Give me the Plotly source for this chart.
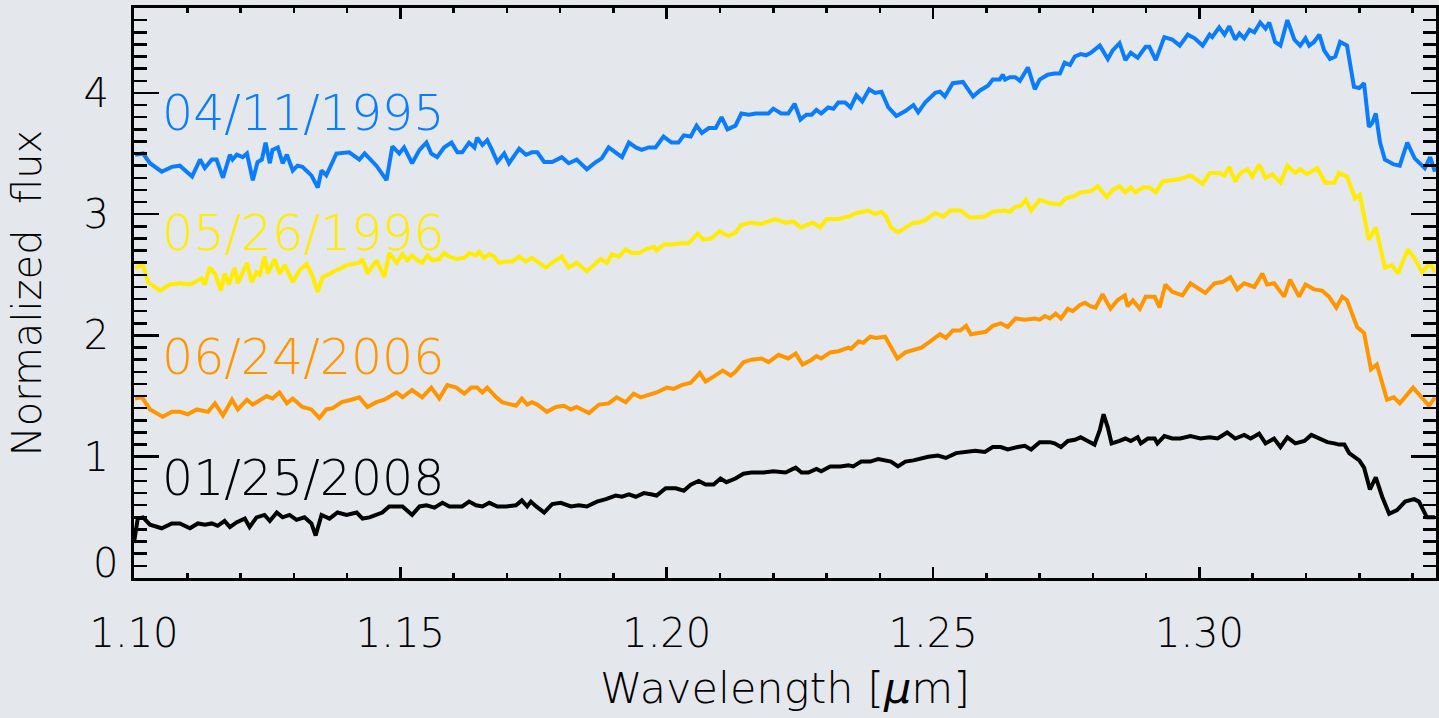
import plotly.graph_objects as go

# ---------------- data ----------------
wl_1995 = [1.1002,1.1017,1.1030,1.1052,1.1071,1.1086,1.1109,1.1124,1.1133,1.1146,1.1155,1.1167,1.1180,1.1185,1.1193,1.1204,1.1212,1.1223,1.1232,1.1240,1.1247,1.1255,1.1260,1.1270,1.1279,1.1287,1.1298,1.1307,1.1316,1.1333,1.1345,1.1352,1.1361,1.1380,1.1404,1.1423,1.1433,1.1455,1.1474,1.1485,1.1498,1.1507,1.1522,1.1536,1.1549,1.1558,1.1569,1.1582,1.1596,1.1607,1.1616,1.1629,1.1639,1.1644,1.1654,1.1663,1.1672,1.1682,1.1695,1.1704,1.1723,1.1736,1.1747,1.1757,1.1770,1.1785,1.1803,1.1816,1.1831,1.1850,1.1867,1.1878,1.1891,1.1904,1.1916,1.1929,1.1942,1.1953,1.1966,1.1979,1.1994,1.2009,1.2022,1.2032,1.2045,1.2056,1.2066,1.2079,1.2092,1.2103,1.2114,1.2129,1.2140,1.2154,1.2167,1.2178,1.2191,1.2200,1.2215,1.2228,1.2240,1.2251,1.2262,1.2272,1.2281,1.2290,1.2303,1.2313,1.2322,1.2335,1.2345,1.2356,1.2367,1.2380,1.2391,1.2403,1.2416,1.2431,1.2448,1.2463,1.2472,1.2485,1.2504,1.2513,1.2522,1.2537,1.2556,1.2575,1.2588,1.2603,1.2612,1.2625,1.2631,1.2635,1.2644,1.2654,1.2663,1.2678,1.2691,1.2700,1.2715,1.2728,1.2738,1.2747,1.2757,1.2766,1.2777,1.2787,1.2796,1.2813,1.2828,1.2837,1.2850,1.2861,1.2871,1.2884,1.2899,1.2906,1.2918,1.2934,1.2949,1.2963,1.2978,1.2991,1.3006,1.3019,1.3024,1.3037,1.3047,1.3056,1.3067,1.3075,1.3084,1.3094,1.3103,1.3114,1.3124,1.3131,1.3142,1.3152,1.3165,1.3178,1.3189,1.3199,1.3206,1.3215,1.3225,1.3234,1.3245,1.3255,1.3264,1.3277,1.3290,1.3300,1.3309,1.3318,1.3324,1.3331,1.3339,1.3348,1.3365,1.3376,1.3390,1.3404,1.3423,1.3433,1.3442]
fx_1995 = [3.49,3.50,3.42,3.35,3.39,3.40,3.31,3.45,3.38,3.45,3.45,3.30,3.49,3.45,3.49,3.47,3.50,3.28,3.43,3.45,3.59,3.42,3.53,3.55,3.42,3.49,3.36,3.40,3.39,3.32,3.22,3.36,3.32,3.50,3.51,3.45,3.50,3.40,3.28,3.56,3.50,3.55,3.42,3.53,3.59,3.50,3.47,3.55,3.59,3.51,3.51,3.59,3.55,3.63,3.57,3.61,3.53,3.43,3.50,3.42,3.54,3.49,3.51,3.51,3.43,3.43,3.47,3.42,3.45,3.37,3.43,3.46,3.55,3.51,3.47,3.59,3.55,3.53,3.55,3.55,3.64,3.59,3.59,3.65,3.64,3.73,3.67,3.71,3.71,3.80,3.70,3.73,3.83,3.82,3.83,3.83,3.83,3.87,3.83,3.83,3.91,3.78,3.82,3.82,3.86,3.83,3.88,3.87,3.92,3.92,3.88,3.98,3.93,4.03,4.00,4.01,3.88,3.81,3.85,3.90,3.84,3.92,4.00,4.01,3.97,4.08,4.09,3.97,4.02,4.06,4.11,4.11,4.15,4.11,4.13,4.13,4.10,4.21,4.03,4.11,4.15,4.16,4.16,4.25,4.23,4.30,4.32,4.31,4.33,4.39,4.28,4.35,4.41,4.27,4.33,4.29,4.38,4.38,4.27,4.46,4.44,4.39,4.48,4.45,4.39,4.48,4.46,4.54,4.48,4.55,4.44,4.49,4.45,4.52,4.50,4.58,4.53,4.58,4.42,4.39,4.60,4.44,4.39,4.45,4.39,4.42,4.48,4.35,4.28,4.30,4.42,4.39,4.05,4.04,4.08,3.72,3.75,3.83,3.59,3.45,3.41,3.40,3.59,3.46,3.38,3.47,3.35]

wl_1996 = [1.1002,1.1017,1.1026,1.1049,1.1067,1.1086,1.1105,1.1127,1.1133,1.1142,1.1152,1.1163,1.1170,1.1178,1.1189,1.1195,1.1212,1.1221,1.1230,1.1236,1.1245,1.1251,1.1264,1.1273,1.1283,1.1298,1.1311,1.1324,1.1333,1.1345,1.1354,1.1367,1.1380,1.1399,1.1423,1.1429,1.1438,1.1455,1.1470,1.1479,1.1493,1.1504,1.1513,1.1522,1.1532,1.1541,1.1551,1.1560,1.1573,1.1582,1.1592,1.1605,1.1620,1.1629,1.1642,1.1648,1.1657,1.1667,1.1676,1.1685,1.1699,1.1710,1.1723,1.1736,1.1747,1.1757,1.1773,1.1785,1.1803,1.1816,1.1831,1.1850,1.1867,1.1876,1.1888,1.1897,1.1910,1.1923,1.1934,1.1948,1.1961,1.1976,1.1981,1.1994,1.2009,1.2026,1.2041,1.2058,1.2069,1.2084,1.2099,1.2116,1.2129,1.2140,1.2157,1.2178,1.2204,1.2223,1.2238,1.2251,1.2262,1.2275,1.2288,1.2300,1.2322,1.2341,1.2356,1.2378,1.2391,1.2403,1.2412,1.2421,1.2434,1.2448,1.2463,1.2472,1.2485,1.2504,1.2519,1.2532,1.2552,1.2569,1.2597,1.2612,1.2635,1.2644,1.2654,1.2665,1.2674,1.2684,1.2700,1.2719,1.2738,1.2749,1.2766,1.2777,1.2796,1.2809,1.2826,1.2837,1.2850,1.2861,1.2871,1.2880,1.2893,1.2906,1.2918,1.2931,1.2949,1.2964,1.2983,1.3006,1.3019,1.3037,1.3047,1.3056,1.3067,1.3077,1.3090,1.3099,1.3112,1.3124,1.3137,1.3152,1.3165,1.3180,1.3189,1.3202,1.3221,1.3236,1.3253,1.3262,1.3277,1.3292,1.3301,1.3318,1.3331,1.3348,1.3361,1.3373,1.3391,1.3403,1.3418,1.3433,1.3442]
fx_1996 = [2.56,2.58,2.44,2.37,2.42,2.43,2.42,2.47,2.42,2.56,2.51,2.37,2.51,2.42,2.56,2.43,2.60,2.44,2.52,2.50,2.65,2.51,2.63,2.51,2.58,2.44,2.54,2.59,2.51,2.36,2.48,2.51,2.54,2.58,2.60,2.63,2.51,2.62,2.48,2.68,2.60,2.67,2.62,2.66,2.62,2.60,2.66,2.62,2.63,2.68,2.65,2.63,2.64,2.68,2.66,2.69,2.64,2.67,2.65,2.60,2.61,2.61,2.65,2.61,2.64,2.61,2.56,2.60,2.65,2.56,2.60,2.53,2.60,2.63,2.60,2.67,2.65,2.71,2.68,2.68,2.71,2.73,2.70,2.75,2.75,2.76,2.76,2.84,2.79,2.80,2.86,2.82,2.85,2.91,2.93,2.92,2.96,2.93,2.94,2.89,2.91,2.93,2.89,2.96,2.96,2.98,3.01,3.03,3.00,3.02,2.98,2.89,2.85,2.89,2.93,2.93,2.95,3.01,2.98,3.03,3.03,2.97,2.98,3.02,3.03,3.02,3.06,3.07,3.12,3.03,3.12,3.09,3.08,3.13,3.15,3.18,3.19,3.23,3.14,3.20,3.23,3.18,3.22,3.18,3.22,3.22,3.18,3.27,3.28,3.29,3.32,3.25,3.34,3.34,3.32,3.39,3.27,3.34,3.37,3.31,3.41,3.30,3.33,3.26,3.40,3.34,3.37,3.33,3.38,3.26,3.26,3.34,3.31,3.13,3.16,2.79,2.89,2.56,2.58,2.51,2.71,2.64,2.52,2.60,2.52]

wl_2006 = [1.1002,1.1015,1.1030,1.1054,1.1071,1.1086,1.1101,1.1118,1.1139,1.1152,1.1167,1.1184,1.1195,1.1212,1.1223,1.1249,1.1260,1.1273,1.1287,1.1298,1.1316,1.1333,1.1348,1.1361,1.1373,1.1390,1.1408,1.1423,1.1438,1.1455,1.1470,1.1493,1.1504,1.1522,1.1541,1.1558,1.1573,1.1588,1.1605,1.1620,1.1633,1.1644,1.1654,1.1663,1.1680,1.1691,1.1717,1.1728,1.1738,1.1747,1.1757,1.1775,1.1792,1.1807,1.1820,1.1831,1.1854,1.1873,1.1891,1.1906,1.1923,1.1938,1.1951,1.1966,1.1981,1.2000,1.2013,1.2028,1.2045,1.2062,1.2073,1.2088,1.2105,1.2120,1.2129,1.2144,1.2159,1.2178,1.2191,1.2210,1.2228,1.2242,1.2255,1.2272,1.2281,1.2290,1.2307,1.2322,1.2341,1.2346,1.2360,1.2369,1.2382,1.2393,1.2410,1.2419,1.2433,1.2448,1.2463,1.2478,1.2494,1.2513,1.2524,1.2537,1.2551,1.2562,1.2571,1.2588,1.2599,1.2612,1.2627,1.2640,1.2655,1.2672,1.2691,1.2700,1.2710,1.2719,1.2730,1.2740,1.2753,1.2762,1.2775,1.2785,1.2796,1.2805,1.2818,1.2833,1.2846,1.2860,1.2865,1.2875,1.2888,1.2899,1.2916,1.2925,1.2936,1.2949,1.2968,1.2983,1.2996,1.3011,1.3028,1.3043,1.3058,1.3071,1.3084,1.3103,1.3118,1.3127,1.3140,1.3159,1.3170,1.3187,1.3199,1.3215,1.3230,1.3243,1.3257,1.3268,1.3277,1.3296,1.3309,1.3322,1.3333,1.3352,1.3365,1.3376,1.3401,1.3414,1.3431,1.3442]
fx_2006 = [1.48,1.49,1.39,1.33,1.37,1.37,1.35,1.39,1.37,1.44,1.34,1.47,1.39,1.47,1.43,1.50,1.48,1.53,1.44,1.48,1.41,1.39,1.32,1.39,1.40,1.45,1.47,1.49,1.41,1.45,1.47,1.53,1.49,1.55,1.49,1.57,1.48,1.59,1.57,1.52,1.57,1.57,1.53,1.57,1.49,1.45,1.42,1.48,1.43,1.45,1.43,1.37,1.41,1.42,1.39,1.41,1.36,1.43,1.44,1.49,1.45,1.52,1.49,1.51,1.53,1.57,1.56,1.59,1.61,1.69,1.62,1.66,1.71,1.67,1.70,1.78,1.80,1.81,1.78,1.84,1.81,1.85,1.76,1.80,1.83,1.81,1.86,1.87,1.90,1.89,1.95,1.94,1.99,1.98,1.99,1.92,1.81,1.86,1.88,1.90,1.95,2.01,1.98,2.04,2.04,2.08,2.01,2.02,2.03,2.08,2.10,2.07,2.14,2.13,2.14,2.13,2.16,2.14,2.18,2.14,2.22,2.20,2.25,2.27,2.24,2.23,2.34,2.22,2.29,2.33,2.24,2.29,2.22,2.32,2.32,2.23,2.42,2.36,2.33,2.43,2.39,2.35,2.43,2.44,2.48,2.38,2.43,2.40,2.51,2.42,2.43,2.32,2.46,2.32,2.42,2.38,2.37,2.32,2.23,2.32,2.29,2.07,2.02,1.72,1.76,1.47,1.49,1.44,1.57,1.51,1.42,1.49]

wl_2008 = [1.1000,1.1007,1.1017,1.1030,1.1052,1.1071,1.1086,1.1105,1.1120,1.1133,1.1146,1.1157,1.1170,1.1180,1.1193,1.1208,1.1217,1.1230,1.1245,1.1255,1.1268,1.1279,1.1292,1.1305,1.1320,1.1333,1.1341,1.1352,1.1367,1.1382,1.1399,1.1418,1.1429,1.1442,1.1466,1.1479,1.1504,1.1522,1.1536,1.1549,1.1564,1.1579,1.1592,1.1605,1.1616,1.1629,1.1642,1.1654,1.1667,1.1682,1.1699,1.1717,1.1728,1.1738,1.1745,1.1755,1.1770,1.1785,1.1801,1.1820,1.1835,1.1850,1.1869,1.1886,1.1904,1.1916,1.1929,1.1942,1.1957,1.1970,1.1981,1.1998,1.2017,1.2032,1.2045,1.2060,1.2073,1.2088,1.2101,1.2112,1.2129,1.2144,1.2159,1.2182,1.2200,1.2223,1.2242,1.2253,1.2266,1.2281,1.2290,1.2307,1.2326,1.2341,1.2350,1.2365,1.2382,1.2397,1.2412,1.2421,1.2434,1.2448,1.2463,1.2472,1.2491,1.2509,1.2524,1.2543,1.2560,1.2579,1.2597,1.2612,1.2627,1.2640,1.2659,1.2672,1.2684,1.2700,1.2719,1.2728,1.2740,1.2753,1.2766,1.2777,1.2790,1.2803,1.2813,1.2820,1.2828,1.2835,1.2850,1.2861,1.2871,1.2884,1.2890,1.2903,1.2916,1.2921,1.2934,1.2949,1.2964,1.2983,1.3002,1.3019,1.3034,1.3052,1.3067,1.3084,1.3096,1.3112,1.3124,1.3140,1.3152,1.3165,1.3180,1.3197,1.3210,1.3225,1.3240,1.3253,1.3262,1.3272,1.3281,1.3300,1.3309,1.3320,1.3331,1.3343,1.3356,1.3371,1.3386,1.3403,1.3412,1.3427,1.3442]
fx_2008 = [0.29,0.49,0.50,0.44,0.41,0.45,0.45,0.41,0.45,0.44,0.45,0.43,0.47,0.42,0.46,0.49,0.42,0.50,0.52,0.47,0.54,0.50,0.52,0.48,0.50,0.45,0.35,0.52,0.49,0.54,0.52,0.54,0.49,0.50,0.54,0.59,0.59,0.52,0.59,0.60,0.58,0.62,0.59,0.59,0.59,0.63,0.60,0.59,0.62,0.59,0.59,0.60,0.64,0.59,0.63,0.59,0.54,0.61,0.62,0.59,0.60,0.59,0.63,0.65,0.68,0.67,0.69,0.67,0.70,0.69,0.68,0.74,0.74,0.72,0.77,0.80,0.77,0.77,0.82,0.79,0.82,0.86,0.87,0.87,0.88,0.87,0.91,0.87,0.87,0.90,0.88,0.92,0.92,0.93,0.92,0.96,0.96,0.98,0.97,0.96,0.92,0.96,0.97,0.98,1.00,1.01,0.99,1.03,1.04,1.05,1.04,1.08,1.08,1.06,1.08,1.09,1.06,1.12,1.12,1.11,1.08,1.13,1.14,1.16,1.13,1.10,1.22,1.35,1.24,1.11,1.13,1.15,1.13,1.16,1.11,1.15,1.15,1.11,1.17,1.15,1.15,1.17,1.15,1.16,1.15,1.20,1.15,1.18,1.15,1.19,1.11,1.15,1.08,1.16,1.11,1.13,1.18,1.15,1.12,1.11,1.10,1.10,1.03,0.97,0.91,0.73,0.83,0.67,0.53,0.56,0.63,0.65,0.63,0.50,0.50]

dates = ["04/11/1995", "05/26/1996", "06/24/2006", "01/25/2008"]
label_y = [3.83, 2.84, 1.82, 0.82]
label_x = 1.1049
colors = ["#0a7cff", "#ffec00", "#ff9600", "#000000"]

x_ticks = [1.10, 1.15, 1.20, 1.25, 1.30]
x_ticktext = ["1.10", "1.15", "1.20", "1.25", "1.30"]
y_ticks = [1, 2, 3, 4]
zero_label_y = 0.125   # IDL lifts the "0" label above the x axis

x_range = [1.10, 1.3444]
y_range = [0, 4.70]

series = [(wl_1995, fx_1995), (wl_1996, fx_1996), (wl_2006, fx_2006), (wl_2008, fx_2008)]

BG = "#e4e7eb"
FONT = "DejaVu Sans"

fig = go.Figure()
for (wl, fx), c, d in zip(series, colors, dates):
    fig.add_trace(go.Scatter(x=wl, y=fx, mode="lines", name=d,
                             line=dict(color=c, width=4), showlegend=False,
                             hoverinfo="skip"))

for d, yv, c in zip(dates, label_y, colors):
    fig.add_annotation(x=label_x, y=yv, xref="x", yref="y", text=d,
                       showarrow=False, xanchor="left", yanchor="middle",
                       font=dict(family=FONT, size=49, color=c, weight=200))

tick_font = dict(family=FONT, size=40, color="black", weight=200)

# "0" label of the y axis, placed as IDL does (slightly above the axis)
fig.add_annotation(x=0, xref="paper", y=zero_label_y, yref="y", text="0",
                   showarrow=False, xanchor="right", yanchor="middle",
                   xshift=-14, font=tick_font)

axis_common = dict(showline=True, linewidth=3, linecolor="black", mirror="ticks",
                   ticks="inside", tickcolor="black", showgrid=False, zeroline=False,
                   tickfont=tick_font)

fig.update_xaxes(range=x_range, tickvals=x_ticks, ticktext=x_ticktext,
                 ticklen=11, tickwidth=2.5, ticklabelstandoff=18,
                 minor=dict(dtick=0.01, tick0=1.10, ticks="inside", ticklen=5,
                            tickwidth=2.5, tickcolor="black", showgrid=False),
                 title=dict(text="Wavelength [<i>µ</i>m]",
                            font=dict(family=FONT, size=43, color="black", weight=200),
                            standoff=18),
                 **axis_common)
fig.update_yaxes(range=y_range, tickvals=y_ticks, ticklen=25, tickwidth=2.5,
                 ticklabelstandoff=14,
                 minor=dict(dtick=0.1, tick0=0, ticks="inside", ticklen=13,
                            tickwidth=2.5, tickcolor="black", showgrid=False),
                 title=dict(text="Normalized  flux",
                            font=dict(family=FONT, size=40, color="black", weight=200),
                            standoff=30),
                 **axis_common)

fig.update_layout(width=1439, height=718, autosize=False,
                  margin=dict(l=134, r=0, t=8, b=140),
                  plot_bgcolor=BG, paper_bgcolor=BG)

page_js = ("document.body.style.margin='0';"
           "document.body.style.overflow='hidden';"
           "document.body.style.background='%s';"
           "document.documentElement.style.background='%s';" % (BG, BG))

fig.write_html("out.html", post_script=page_js,
               config={"displayModeBar": False, "staticPlot": True})
